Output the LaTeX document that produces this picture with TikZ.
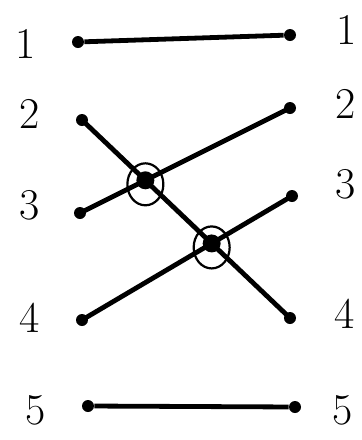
\documentclass[tikz,border=0pt]{standalone}
\usepackage{tikz}
\tikzset{
  epais/.style={line width=2.4pt},
  lab/.style={font=\fontsize{22}{22}\selectfont, inner sep=0pt},
  pin/.style={circle, fill=black, inner sep=0pt, minimum size=6pt},
  knot/.style={circle, fill=black, inner sep=0pt, minimum size=9pt},
  ring/.style={ellipse, draw=black, line width=1.1pt, inner sep=0pt, minimum width=18pt, minimum height=21pt}
}
\usetikzlibrary{shapes.geometric}
\begin{document}
\begin{tikzpicture}[x=0.5pt, y=-0.5pt]
	\useasboundingbox (0,0) rectangle (362,440);
%Left labels
	\node[lab] (l1) at (26,44) {1};
	\node[lab] (l2) at (30,114) {2};
	\node[lab] (l3) at (30,205) {3};
	\node[lab] (l4) at (30,318) {4};
	\node[lab] (l5) at (36,410) {5};
%Right labels
	\node[lab] (r1) at (347,30) {1};
	\node[lab] (r2) at (346,104) {2};
	\node[lab] (r3) at (346,184) {3};
	\node[lab] (r4) at (345,314) {4};
	\node[lab] (r5) at (343,410) {5};
%Left pins
	\node[pin] (a1) at (78,42) {};
	\node[pin] (a2) at (82,120) {};
	\node[pin] (a3) at (80,213) {};
	\node[pin] (a4) at (82,320) {};
	\node[pin] (a5) at (88,406) {};
%Right pins
	\node[pin] (b1) at (290,35) {};
	\node[pin] (b2) at (290,108) {};
	\node[pin] (b3) at (292,196) {};
	\node[pin] (b4) at (290,318) {};
	\node[pin] (b5) at (295,407) {};
%Wires
	\draw[epais] (a1) -- (b1);
	\draw[epais] (a2.center) -- (b4.center);
	\draw[epais] (a3.center) -- (b2.center);
	\draw[epais] (a4.center) -- (b3.center);
	\draw[epais] (a5) -- (b5);
%Crossings
	\node[knot] (k1) at (intersection of a2.center--b4.center and a3.center--b2.center) {};
	\node[ring] (c1) at ([yshift=-2pt]k1) {};
	\node[knot] (k2) at (intersection of a2.center--b4.center and a4.center--b3.center) {};
	\node[ring] (c2) at ([yshift=-2pt]k2) {};
\end{tikzpicture}
\end{document}
